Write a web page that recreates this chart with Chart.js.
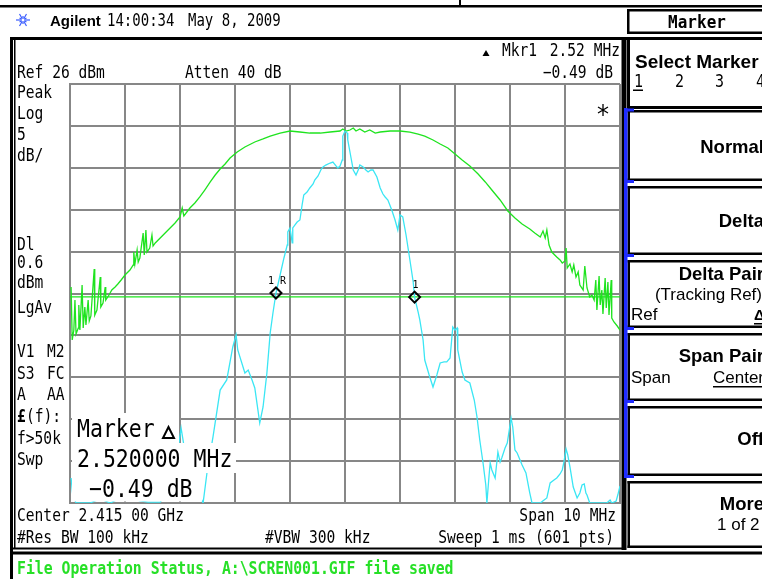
<!DOCTYPE html>
<html>
<head>
<meta charset="utf-8">
<script src="https://cdn.jsdelivr.net/npm/chart.js@4.4.1/dist/chart.umd.min.js"></script>
<style>
  html, body { margin: 0; padding: 0; background: #fff; overflow: hidden; }
  canvas { display: block; }
</style>
</head>
<body>
<canvas id="sa" width="762" height="579" style="width:762px;height:579px"></canvas>
<script>
// Span 2410..2420 MHz (center 2.415 GHz, 10 MHz), ref 26 dBm, 5 dB/div
const startMHz = 2410;
const xTicks = [2410, 2411, 2412, 2413, 2414, 2415, 2416, 2417, 2418, 2419, 2420];
const yTicks = [26, 21, 16, 11, 6, 1, -4, -9, -14, -19, -24];

// green trace: MHz offset from span start / dBm
const greenMHz = [0.02,0.04,0.07,0.09,0.11,0.15,0.16,0.18,0.22,0.24,
  0.27,0.29,0.33,0.35,0.38,0.44,0.45,0.49,0.55,0.56,
  0.60,0.64,0.65,0.71,0.76,0.82,0.87,0.93,1.00,1.09,
  1.15,1.16,1.18,1.22,1.24,1.27,1.33,1.35,1.38,1.40,
  1.45,1.49,1.51,1.55,1.64,1.73,1.82,1.91,2.00,2.04,
  2.07,2.18,2.27,2.36,2.45,2.55,2.64,2.73,2.82,2.91,
  3.04,3.18,3.36,3.51,3.64,3.82,4.00,4.18,4.36,4.55,
  4.73,4.91,4.96,5.02,5.09,5.15,5.20,5.27,5.36,5.45,
  5.55,5.64,5.82,6.00,6.18,6.33,6.45,6.60,6.73,6.87,
  7.00,7.13,7.27,7.42,7.55,7.67,7.82,7.96,8.09,8.22,
  8.36,8.45,8.55,8.60,8.64,8.67,8.71,8.76,8.85,8.91,
  8.95,9.00,9.02,9.04,9.09,9.13,9.16,9.20,9.24,9.27,
  9.33,9.36,9.40,9.45,9.49,9.53,9.56,9.58,9.62,9.64,
  9.67,9.69,9.73,9.75,9.78,9.80,9.84,9.85,9.89,9.95,
  10.00];
const greenDbm = [1.78,-4.55,-3.36,0.22,-3.83,-3.12,-0.37,-3.36,2.01,-3.12,
  -0.61,-2.76,0.22,-2.28,-1.68,3.92,-1.57,-0.97,2.97,-0.61,
  -0.13,1.78,0.22,0.82,1.42,1.78,2.13,2.61,3.21,3.80,
  4.40,5.95,4.52,6.19,4.76,5.24,8.22,5.59,8.58,5.95,
  6.43,7.98,6.67,7.03,7.62,8.22,8.82,9.41,10.13,11.20,
  10.25,11.20,11.80,12.52,13.35,14.31,15.14,15.86,16.45,17.17,
  17.89,18.48,19.08,19.44,19.79,20.15,20.39,20.27,20.15,20.15,
  20.27,20.39,20.63,20.39,20.51,20.75,20.39,20.63,20.27,20.51,
  20.15,20.27,20.39,20.39,20.27,20.03,19.79,19.32,18.84,18.36,
  17.65,16.93,16.21,15.26,14.31,13.35,12.16,10.85,10.01,9.29,
  8.70,8.22,7.74,8.46,7.62,8.58,6.79,5.95,5.36,5.00,
  4.64,4.88,6.43,4.04,4.52,3.57,4.40,2.97,3.57,2.01,
  1.42,4.28,1.66,0.58,0.82,0.22,2.61,-0.97,3.09,-0.37,
  1.42,-1.45,2.85,-0.73,2.37,-1.57,2.61,-1.92,-2.40,-2.88,
  -3.36];

// cyan trace
const cyanMHz = [0.02,0.05,0.11,0.36,0.55,0.73,1.00,1.27,1.42,1.64,
  1.82,1.95,2.02,2.07,2.18,2.31,2.42,2.49,2.60,2.73,
  2.85,2.96,3.02,3.05,3.18,3.24,3.31,3.36,3.45,3.51,
  3.58,3.64,3.69,3.745,3.82,3.89,3.95,3.96,4.00,4.04,
  4.05,4.13,4.18,4.22,4.25,4.31,4.36,4.42,4.45,4.51,
  4.56,4.60,4.65,4.73,4.78,4.84,4.87,4.91,4.95,4.96,
  5.00,5.04,5.05,5.11,5.15,5.20,5.24,5.27,5.33,5.38,
  5.42,5.47,5.51,5.58,5.64,5.69,5.73,5.78,5.85,5.91,
  5.96,6.00,6.05,6.11,6.18,6.24,6.265,6.33,6.36,6.42,
  6.45,6.53,6.60,6.67,6.73,6.80,6.85,6.91,6.96,7.00,
  7.04,7.05,7.13,7.18,7.27,7.35,7.40,7.45,7.51,7.56,
  7.58,7.62,7.64,7.67,7.73,7.78,7.82,7.85,7.91,7.95,
  8.02,8.05,8.09,8.13,8.22,8.29,8.36,8.40,8.55,8.62,
  8.67,8.73,8.80,8.85,8.91,8.95,8.98,9.02,9.05,9.09,
  9.15,9.22,9.27,9.31,9.35,9.38,9.40,9.45,9.76,9.82,
  9.85,9.93,9.96,10.00];
const cyanDbm = [-21.02,-23.05,-24.0,-24.0,-23.52,-24.0,-23.16,-23.76,-23.9,-23.9,
  -22.45,-18.27,-15.05,-17.08,-19.82,-22.45,-24.0,-20.42,-16.12,-10.52,
  -9.32,-5.38,-3.95,-5.74,-8.49,-8.13,-9.32,-10.28,-14.45,-12.54,
  -8.49,-3.71,-1.33,1.06,3.21,5.24,6.79,8.34,8.82,7.03,
  8.82,9.53,9.77,11.56,12.75,13.11,13.59,14.07,14.54,15.02,
  15.74,16.10,16.33,16.57,16.69,16.21,15.98,16.21,16.93,19.79,
  20.39,20.15,19.32,17.17,15.74,15.14,15.74,16.33,16.10,15.74,
  15.50,15.74,15.74,14.90,13.59,12.87,12.52,12.16,10.96,9.77,
  8.58,10.37,10.13,7.98,5.00,2.37,0.57,-1.21,-2.16,-4.55,
  -6.94,-8.73,-10.16,-8.73,-7.29,-7.17,-7.17,-6.70,-3.00,-3.36,
  -3.12,-5.74,-8.37,-9.32,-9.68,-11.71,-13.74,-16.48,-19.23,-21.85,
  -24.0,-20.66,-19.23,-20.06,-21.02,-17.91,-19.11,-18.63,-17.44,-16.84,
  -13.86,-14.93,-17.67,-18.03,-19.47,-20.42,-22.81,-24.0,-24.0,-23.64,
  -23.40,-21.61,-21.25,-21.02,-20.54,-20.06,-19.11,-17.56,-18.27,-19.70,
  -22.09,-23.40,-22.81,-21.85,-21.73,-22.81,-23.05,-24.0,-24.0,-23.64,
  -24.0,-23.76,-23.05,-21.97];

const displayLineDbm = 0.6;
const markerMHz = [3.745, 6.265];
const markerDbm = [1.06, 0.57];
const markerNames = ['1 R', '1'];

const GREEN = '#1fe31f';
const CYAN = '#3ae6f4';
const GRID = '#878787';
const MONO = '"DejaVu Sans Mono", monospace';
const SANS = '"Liberation Sans", Arial, sans-serif';
const SCR = '14.6px ' + MONO;

function pts(xs, ys) {
  return xs.map((v, i) => ({ x: startMHz + v, y: ys[i] }));
}

function txt(ctx, s, x, y, font, o) {
  o = o || {};
  ctx.save();
  ctx.translate(x, y);
  ctx.scale(1, o.sy || 1);
  ctx.font = font;
  ctx.fillStyle = o.color || '#000';
  ctx.textAlign = o.align || 'left';
  ctx.textBaseline = 'alphabetic';
  ctx.fillText(s, 0, 0);
  ctx.restore();
}

function scr(ctx, s, x, y, align) {
  txt(ctx, s, x, y, SCR, { sy: 1.18, align: align });
}

function frame(ctx, x, y, w, h, lw) {
  ctx.fillRect(x, y, w, lw);
  ctx.fillRect(x, y + h - lw, w, lw);
  ctx.fillRect(x, y, lw, h);
  ctx.fillRect(x + w - lw, y, lw, h);
}

const screenPlugin = {
  id: 'screen',
  beforeDraw(chart) {
    const ctx = chart.ctx;
    ctx.save();
    ctx.fillStyle = '#fff';
    ctx.fillRect(0, 0, chart.width, chart.height);

    ctx.fillStyle = '#000';
    ctx.fillRect(0, 5, 762, 2.5);
    ctx.fillRect(459, 0, 2, 6);

    // logo
    ctx.strokeStyle = '#3a5cff';
    ctx.lineWidth = 1.2;
    for (let i = 0; i < 12; i++) {
      const a = i * Math.PI / 6;
      const r = i % 2 ? 4 : 7;
      ctx.beginPath();
      ctx.moveTo(23 + Math.cos(a) * 1.5, 20 + Math.sin(a) * 1.5);
      ctx.lineTo(23 + Math.cos(a) * r, 20 + Math.sin(a) * r);
      ctx.stroke();
    }
    txt(ctx, 'Agilent', 50, 26, 'bold 15px ' + SANS);
    txt(ctx, '14:00:34', 107, 26, '14px ' + MONO, { sy: 1.2 });
    txt(ctx, 'May 8, 2009', 188, 26, '14px ' + MONO, { sy: 1.2 });

    // right panel title + select marker
    ctx.fillStyle = '#000';
    frame(ctx, 627, 9, 140, 25, 2.5);
    txt(ctx, 'Marker', 697, 28, 'bold 16px ' + MONO, { sy: 1.15, align: 'center' });
    frame(ctx, 627, 37, 140, 72, 3);
    txt(ctx, 'Select Marker', 635, 68, 'bold 19px ' + SANS);
    [634, 675, 715, 756].forEach((x, i) => {
      txt(ctx, String(i + 1), x, 87, '15px ' + MONO, { sy: 1.15 });
    });
    ctx.fillRect(633, 89.5, 10, 1.5);

    // softkeys
    const keys = [
      { t: 110, b: 181, label: 'Normal', ly: 153 },
      { t: 186, b: 255, label: 'Delta', ly: 227 },
      { t: 260, b: 328, label: 'Delta Pair', ly: 280 },
      { t: 333, b: 401, label: 'Span Pair', ly: 362 },
      { t: 406, b: 476, label: 'Off', ly: 445 },
      { t: 481, b: 548, label: 'More', ly: 510 }
    ];
    keys.forEach(k => {
      ctx.fillStyle = '#000';
      frame(ctx, 627.5, k.t, 140, k.b - k.t, 2.5);
      txt(ctx, k.label, 764, k.ly, 'bold 18.5px ' + SANS, { align: 'right' });
    });
    txt(ctx, '(Tracking Ref)', 762, 300, '17px ' + SANS, { align: 'right' });
    txt(ctx, 'Ref', 631, 320, '17px ' + SANS);
    txt(ctx, '\u0394', 754, 320, 'bold 15px ' + SANS);
    ctx.fillRect(754, 323, 12, 1.5);
    txt(ctx, 'Span', 631, 383, '17px ' + SANS);
    txt(ctx, 'Center', 713, 383, '17px ' + SANS);
    ctx.fillRect(713, 386, 55, 1.5);
    txt(ctx, '1 of 2', 717, 530, '17px ' + SANS);

    // screen frame
    ctx.fillStyle = '#000';
    ctx.fillRect(10, 37, 3, 542);
    ctx.fillRect(14, 39, 1.5, 510);
    ctx.fillRect(10, 37, 617, 3);
    ctx.fillRect(621.5, 37, 5, 513);
    ctx.fillRect(12, 547.5, 614, 2);
    ctx.fillRect(10, 551.5, 752, 3);
    ctx.fillStyle = '#1f2cff';
    ctx.fillRect(624, 108, 3.5, 370);
    [108.5, 180, 254, 327, 400, 475].forEach(y => ctx.fillRect(624, y, 10, 3));

    // screen annotations
    ctx.fillStyle = '#000';
    ctx.beginPath();
    ctx.moveTo(482.5, 56); ctx.lineTo(489.5, 56); ctx.lineTo(486, 50); ctx.closePath();
    ctx.fill();
    scr(ctx, 'Mkr1', 502, 56);
    scr(ctx, '2.52 MHz', 620, 56, 'right');
    scr(ctx, 'Ref 26 dBm', 17, 78);
    scr(ctx, 'Atten 40 dB', 185, 78);
    scr(ctx, '\u22120.49 dB', 613, 78, 'right');

    [['Peak', 98], ['Log', 119], ['5', 140], ['dB/', 161],
     ['Dl', 250], ['0.6', 268], ['dBm', 288], ['LgAv', 313],
     ['V1', 357], ['S3', 379], ['A', 400], ['f>50k', 444], ['Swp', 465]]
      .forEach(r => scr(ctx, r[0], 17, r[1]));
    [['M2', 357], ['FC', 379], ['AA', 400]].forEach(r => scr(ctx, r[0], 47, r[1]));
    txt(ctx, '\u00a3', 17, 422, 'bold 14.6px ' + MONO, { sy: 1.18 });
    scr(ctx, '(f):', 26, 422);

    scr(ctx, 'Center 2.415 00 GHz', 17, 521);
    scr(ctx, 'Span 10 MHz', 616, 521, 'right');
    scr(ctx, '#Res BW 100 kHz', 17, 543);
    scr(ctx, '#VBW 300 kHz', 265, 543);
    scr(ctx, 'Sweep 1 ms (601 pts)', 614, 543, 'right');

    txt(ctx, 'File Operation Status, A:\\SCREN001.GIF file saved', 17, 574,
      'bold 14.8px ' + MONO, { sy: 1.2, color: '#27e027' });
    ctx.restore();
  },
  afterDatasetsDraw(chart) {
    const ctx = chart.ctx;
    const xs = chart.scales.x, ys = chart.scales.y;
    ctx.save();
    // marker labels
    markerMHz.forEach((f, i) => {
      const px = xs.getPixelForValue(startMHz + f);
      const py = ys.getPixelForValue(markerDbm[i]);
      txt(ctx, markerNames[i], px - (i ? 2 : 8), py - 9, '10px ' + MONO, { sy: 1.1 });
    });
    // asterisk
    ctx.strokeStyle = '#000';
    ctx.lineWidth = 1.3;
    ctx.beginPath();
    ctx.moveTo(603, 104); ctx.lineTo(603, 116);
    ctx.moveTo(598, 107); ctx.lineTo(608, 113);
    ctx.moveTo(598, 113); ctx.lineTo(608, 107);
    ctx.stroke();
    // marker readout block
    ctx.fillStyle = '#fff';
    ctx.fillRect(72, 413, 107, 30);
    ctx.fillRect(72, 443, 164, 30);
    ctx.fillRect(72, 473, 130, 28.5);
    const big = '21.5px ' + MONO;
    txt(ctx, 'Marker', 77, 437, big, { sy: 1.17 });
    ctx.strokeStyle = '#000';
    ctx.lineWidth = 2;
    ctx.beginPath();
    ctx.moveTo(163, 438); ctx.lineTo(174, 438); ctx.lineTo(168.5, 427); ctx.closePath();
    ctx.stroke();
    txt(ctx, '2.520000 MHz', 77, 467, big, { sy: 1.17 });
    txt(ctx, '\u22120.49 dB', 89, 497, big, { sy: 1.17 });
    ctx.restore();
  }
};

const axisCommon = {
  type: 'linear',
  ticks: { display: false },
  grid: { color: GRID, lineWidth: 2, drawTicks: false },
  border: { display: true, color: GRID, width: 2 }
};

new Chart(document.getElementById('sa'), {
  type: 'scatter',
  data: {
    datasets: [
      {
        label: 'Markers',
        data: pts(markerMHz, markerDbm),
        pointStyle: 'rectRot',
        pointRadius: 5.5,
        borderColor: '#000',
        borderWidth: 2,
        backgroundColor: 'rgba(0,0,0,0)'
      },
      {
        label: 'Trace 1',
        data: pts(cyanMHz, cyanDbm),
        showLine: true,
        borderColor: CYAN,
        borderWidth: 1.3,
        pointRadius: 0
      },
      {
        label: 'Display line',
        data: [{ x: xTicks[0], y: displayLineDbm }, { x: xTicks[10], y: displayLineDbm }],
        showLine: true,
        borderColor: GREEN,
        borderWidth: 1.2,
        pointRadius: 0
      },
      {
        label: 'Trace 2',
        data: pts(greenMHz, greenDbm),
        showLine: true,
        borderColor: GREEN,
        borderWidth: 1.3,
        pointRadius: 0
      }
    ]
  },
  options: {
    responsive: false,
    animation: false,
    devicePixelRatio: 1,
    layout: { padding: { left: 70, top: 84, right: 142, bottom: 76 } },
    plugins: { legend: { display: false }, tooltip: { enabled: false } },
    scales: {
      x: Object.assign({}, axisCommon, {
        min: xTicks[0], max: xTicks[10],
        afterBuildTicks: s => { s.ticks = xTicks.map(v => ({ value: v })); },
        afterFit: s => { s.height = 0; }
      }),
      y: Object.assign({}, axisCommon, {
        min: -24, max: 26,
        afterBuildTicks: s => { s.ticks = yTicks.map(v => ({ value: v })); },
        afterFit: s => { s.width = 0; }
      })
    }
  },
  plugins: [screenPlugin]
});
</script>
</body>
</html>
